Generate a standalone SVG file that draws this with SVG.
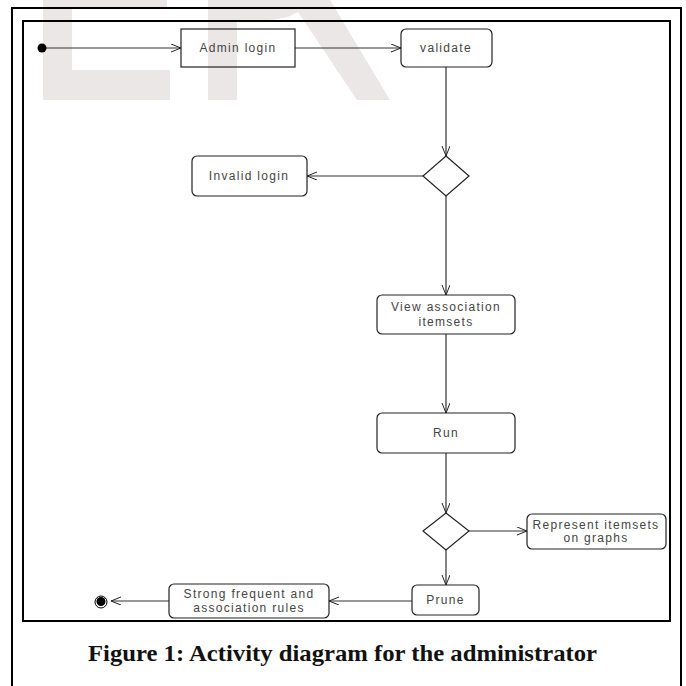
<svg xmlns="http://www.w3.org/2000/svg" width="686" height="686" viewBox="0 0 686 686">
<defs>
<marker id="arr" markerWidth="12" markerHeight="10" refX="10" refY="4" orient="auto" markerUnits="userSpaceOnUse">
<path d="M0,0 L10,4 L0,8" fill="none" stroke="#222" stroke-width="1"/>
</marker>
<style>
.wm{fill:#ece7e7;stroke:none}
.frame{fill:none;stroke:#000;stroke-width:2}
.box{fill:none;stroke:#222;stroke-width:1.2}
.dia{fill:#fff;stroke:#222;stroke-width:1.2}
.lbl{font-family:"Liberation Sans",Arial,sans-serif;font-size:12px;letter-spacing:1.3px;fill:#444;text-anchor:middle}
.conn line{stroke:#333;stroke-width:1.2;marker-end:url(#arr)}
.cap{font-family:"Liberation Serif","Times New Roman",serif;font-weight:bold;font-size:24px;fill:#111}
</style>
</defs>
<rect width="686" height="686" fill="#fff"/>
<g id="watermark">
<rect class="wm" x="43" y="0" width="29" height="100"/>
<rect class="wm" x="43" y="0" width="124" height="7"/>
<rect class="wm" x="43" y="70" width="127" height="30"/>
<rect class="wm" x="208" y="0" width="29" height="100"/>
<path class="wm" d="M237,0 L330,0 L390,100 L357,100 L298,12 Q285,20 265,20 L237,20 Z"/>
</g>
<g id="frames">
<path class="frame" d="M12,686 L12,8 L681,8 L681,686"/>
<rect class="frame" x="23" y="21" width="647" height="600"/>
</g>
<g class="conn" id="connectors">
<line x1="46" y1="48" x2="181" y2="48"/>
<line x1="295" y1="48" x2="401" y2="48"/>
<line x1="446" y1="67" x2="446" y2="156"/>
<line x1="423" y1="176" x2="307" y2="176"/>
<line x1="446" y1="196" x2="446" y2="295"/>
<line x1="446" y1="334" x2="446" y2="413"/>
<line x1="446" y1="453" x2="446" y2="513"/>
<line x1="469" y1="531" x2="527" y2="531"/>
<line x1="446" y1="550" x2="446" y2="585"/>
<line x1="412" y1="601" x2="329" y2="601"/>
<line x1="169" y1="601" x2="111" y2="601"/>
</g>
<g id="start"><circle cx="42" cy="48" r="4.5" fill="#000"/></g>
<g id="admin-login">
<rect class="box" x="181" y="29" width="114" height="38"/>
<text class="lbl" x="238" y="52">Admin login</text>
</g>
<g id="validate">
<rect class="box" x="401" y="29" width="91" height="38" rx="5"/>
<text class="lbl" x="446" y="52">validate</text>
</g>
<g id="decision1">
<polygon class="dia" points="446,156 469,176 446,196 423,176"/>
</g>
<g id="invalid-login">
<rect class="box" x="192" y="156" width="115" height="40" rx="5"/>
<text class="lbl" x="249" y="180">Invalid login</text>
</g>
<g id="view-association">
<rect class="box" x="377" y="295" width="138" height="39" rx="5"/>
<text class="lbl" x="446" y="311">View association</text>
<text class="lbl" x="446" y="326">itemsets</text>
</g>
<g id="run">
<rect class="box" x="377" y="413" width="138" height="40" rx="5"/>
<text class="lbl" x="446" y="437">Run</text>
</g>
<g id="decision2">
<polygon class="dia" points="446,513 469,531 446,550 423,531"/>
</g>
<g id="represent">
<rect class="box" x="527" y="514" width="139" height="35" rx="5"/>
<text class="lbl" x="596" y="529">Represent itemsets</text>
<text class="lbl" x="596" y="542">on graphs</text>
</g>
<g id="prune">
<rect class="box" x="412" y="585" width="67" height="30" rx="5"/>
<text class="lbl" x="445.5" y="604">Prune</text>
</g>
<g id="strong-rules">
<rect class="box" x="169" y="584" width="160" height="34" rx="5"/>
<text class="lbl" x="249" y="598">Strong frequent and</text>
<text class="lbl" x="249" y="612">association rules</text>
</g>
<g id="end">
<circle cx="101" cy="602" r="6" fill="none" stroke="#000" stroke-width="1"/>
<circle cx="101" cy="601.5" r="4.5" fill="#000"/>
</g>
<text class="cap" x="88" y="661" textLength="509" lengthAdjust="spacingAndGlyphs">Figure 1: Activity diagram for the administrator</text>
</svg>
